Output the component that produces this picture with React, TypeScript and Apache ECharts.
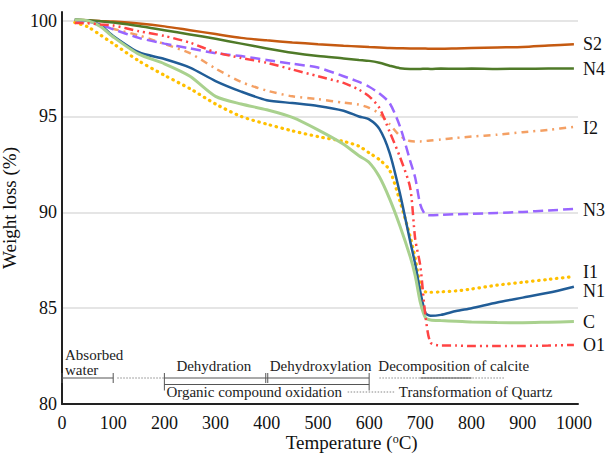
import React, { useEffect, useRef } from 'react';
import * as echarts from 'echarts';

// Temperature grid (°C)
const temperatures = [25, 50, 75, 100, 150, 200, 250, 300, 350, 400, 450, 500, 550, 580, 600, 620, 640, 660, 680, 690, 700, 710, 720, 740, 770, 800, 850, 900, 950, 1000];

// Weight loss (%) per sample
const s2 = [100.05, 100.02, 99.98, 99.95, 99.85, 99.7, 99.5, 99.3, 99.1, 98.97, 98.86, 98.77, 98.69, 98.65, 98.62, 98.6, 98.57, 98.56, 98.55, 98.55, 98.54, 98.54, 98.53, 98.53, 98.55, 98.57, 98.6, 98.62, 98.7, 98.77];
const n4 = [100.05, 100.02, 99.97, 99.9, 99.72, 99.5, 99.28, 99.05, 98.8, 98.55, 98.32, 98.15, 98.03, 97.95, 97.9, 97.8, 97.65, 97.52, 97.48, 97.48, 97.48, 97.49, 97.48, 97.5, 97.49, 97.5, 97.48, 97.49, 97.5, 97.5];
const i2 = [99.98, 99.92, 99.8, 99.58, 99.23, 98.78, 98.3, 97.5, 96.8, 96.35, 96.05, 95.9, 95.72, 95.62, 95.45, 95.15, 94.6, 94.0, 93.72, 93.7, 93.7, 93.72, 93.75, 93.8, 93.88, 93.95, 94.05, 94.18, 94.3, 94.46];
const n3 = [100.0, 99.95, 99.8, 99.55, 99.1, 98.8, 98.55, 98.3, 98.15, 97.95, 97.75, 97.55, 97.1, 96.8, 96.55, 96.2, 95.7, 94.5, 92.7, 91.8, 90.4, 89.88, 89.85, 89.87, 89.9, 89.92, 89.97, 90.02, 90.1, 90.17];
const i1 = [99.9, 99.68, 99.25, 98.8, 97.9, 97.15, 96.45, 95.65, 95.0, 94.6, 94.25, 93.95, 93.7, 93.45, 93.1, 92.75, 92.2, 90.6, 88.75, 87.6, 86.2, 85.85, 85.83, 85.85, 85.9, 86.0, 86.2, 86.35, 86.5, 86.65];
const n1 = [100.05, 100.0, 99.75, 99.2, 98.35, 98.0, 97.55, 96.85, 96.3, 95.85, 95.7, 95.55, 95.3, 95.0, 94.85, 94.35, 93.1, 91.0, 88.5, 87.3, 85.85, 84.75, 84.6, 84.65, 84.85, 85.0, 85.3, 85.55, 85.8, 86.12];
const c = [100.05, 100.0, 99.7, 99.15, 98.25, 97.75, 97.1, 96.05, 95.65, 95.35, 94.95, 94.3, 93.55, 92.95, 92.6, 91.85, 90.7, 89.3, 87.7, 86.7, 85.3, 84.5, 84.38, 84.35, 84.32, 84.28, 84.25, 84.24, 84.27, 84.3];
const o1 = [99.88, 99.86, 99.8, 99.75, 99.45, 99.2, 98.85, 98.35, 98.05, 97.8, 97.45, 97.1, 96.75, 96.4, 96.05, 95.45, 94.2, 92.9, 91.3, 88.6, 87.2, 84.6, 83.2, 83.05, 83.05, 83.02, 83.02, 83.03, 83.05, 83.08];

const seriesNames = ['S2', 'N4', 'I2', 'N3', 'I1', 'N1', 'C', 'O1'];
const seriesValues = [s2, n4, i2, n3, i1, n1, c, o1];
const seriesColors = ['#C55A11', '#4F7A28', '#F4A064', '#9966FF', '#FFC000', '#215D97', '#A9D18E', '#FF4444'];
const seriesDash: any[] = ['solid', 'solid', [7, 5, 2, 5], [10, 5], [0.5, 5.5], 'solid', 'solid', [9, 4, 2, 4, 2, 4]];
const seriesCap = ['butt', 'butt', 'butt', 'butt', 'round', 'butt', 'butt', 'butt'];
const seriesWidth = [2.5, 2.5, 2.5, 2.5, 3.2, 2.5, 3, 2.5];
const labelOffsetY = [0, 0, 1, 1, -5, 4, 0, 0];

const FONT = 'Liberation Serif';

export default function App() {
  const ref = useRef<HTMLDivElement>(null);

  useEffect(() => {
    if (!ref.current) return;
    const chart = echarts.init(ref.current, undefined, { renderer: 'svg' });

    const series = seriesNames.map((name, k) => ({
      name,
      type: 'line',
      data: temperatures.map((t, i) => [t, seriesValues[k][i]]),
      showSymbol: false,
      symbol: 'none',
      smooth: 0.25,
      lineStyle: { color: seriesColors[k], width: seriesWidth[k], type: seriesDash[k], cap: seriesCap[k] },
      itemStyle: { color: seriesColors[k] },
      endLabel: {
        show: true,
        formatter: '{a}',
        color: '#111',
        fontSize: 18,
        fontFamily: FONT,
        distance: 9,
        offset: [0, labelOffsetY[k]],
      },
      z: 3,
    }));

    chart.setOption({
      animation: false,
      backgroundColor: '#fff',
      textStyle: { fontFamily: FONT },
      grid: { left: 62, right: 28, top: 12, bottom: 50, containLabel: false, outerBoundsMode: 'none' },
      xAxis: {
        type: 'value',
        min: 0,
        max: 1008,
        interval: 100,
        axisLine: { show: true, lineStyle: { color: '#222', width: 2 } },
        axisTick: { show: false },
        splitLine: { show: false },
        axisLabel: {
          color: '#111',
          fontSize: 18,
          fontFamily: FONT,
          margin: 10,
          showMaxLabel: false,
          formatter: (v: number) => (v % 100 === 0 ? String(v) : ''),
        },
      },
      yAxis: {
        type: 'value',
        min: 80,
        max: 100.45,
        interval: 5,
        name: 'Weight loss (%)',
        nameLocation: 'middle',
        nameGap: 30,
        nameTextStyle: { color: '#111', fontSize: 19, fontFamily: FONT },
        axisLine: { show: true, lineStyle: { color: '#222', width: 2 } },
        axisTick: { show: false },
        splitLine: { show: true, showMaxLine: false, showMinLine: false, lineStyle: { color: '#dcdcdc', width: 1.5 } },
        axisLabel: {
          color: '#111',
          fontSize: 18,
          fontFamily: FONT,
          margin: 5,
          showMaxLabel: false,
          formatter: (v: number) => (v % 5 === 0 ? String(v) : ''),
        },
      },
      series,
    });

    // Annotation layer, positioned from the axes
    const px = (t: number) => chart.convertToPixel({ xAxisIndex: 0 }, t) as number;
    const base = chart.convertToPixel({ yAxisIndex: 0 }, 80) as number;
    const row1 = base - 26;
    const row2 = base - 19.5;
    const textRow1 = base - 38;
    const textRow2 = base - 12;
    const solid = { stroke: '#555', lineWidth: 1 };
    const dotted = { stroke: '#888', lineWidth: 1, lineDash: [1.5, 1.5] };
    const ln = (x1: number, y1: number, x2: number, y2: number, style: any) => ({
      type: 'line', shape: { x1, y1, x2, y2 }, style, z: 5, silent: true,
    });
    const tx = (text: string, x: number, y: number) => ({
      type: 'text', x, y, z: 5, silent: true,
      style: { text, fontSize: 15, fontFamily: FONT, fill: '#222', align: 'left', verticalAlign: 'middle' },
    });

    const graphic: any[] = [
      // Absorbed water 0-100
      ln(px(0), row1, px(100), row1, solid),
      ln(px(0), row1 - 5, px(0), row1 + 5, solid),
      ln(px(100), row1 - 5, px(100), row1 + 5, solid),
      tx('Absorbed', px(0) + 3, base - 49),
      tx('water', px(0) + 3, base - 34),
      ln(px(108), row1, px(200), row1, dotted),
      // Dehydration 200-400
      ln(px(200), row1, px(400), row1, solid),
      ln(px(200), row1 - 5, px(200), row2 + 6, solid),
      ln(px(400) - 1, row1 - 5, px(400) - 1, row1 + 5, solid),
      ln(px(400) + 1, row1 - 5, px(400) + 1, row1 + 5, solid),
      tx('Dehydration', px(200) + 12, textRow1),
      // Dehydroxylation 400-600
      ln(px(400), row1, px(600), row1, solid),
      ln(px(600), row1 - 5, px(600), row2 + 6, solid),
      tx('Dehydroxylation', px(400) + 3, textRow1),
      // Decomposition of calcite
      ln(px(620), row1, px(865), row1, dotted),
      ln(px(700), row1, px(800), row1, solid),
      tx('Decomposition of calcite', px(618), textRow1),
      // Organic compound oxidation 200-600
      ln(px(200), row2, px(600), row2, solid),
      tx('Organic compound oxidation', px(200) + 2, textRow2),
      ln(px(558), textRow2, px(650), textRow2, dotted),
      tx('Transformation of Quartz', px(658), textRow2),
      // X axis title
      {
        type: 'text', x: px(566), y: base + 38, z: 5, silent: true,
        style: {
          text: '{a|Temperature (}{s|o}{a|C)}',
          align: 'center',
          verticalAlign: 'middle',
          rich: {
            a: { fontSize: 19, fontFamily: FONT, fill: '#111', color: '#111' } as any,
            s: { fontSize: 12, fontFamily: FONT, fill: '#111', color: '#111', verticalAlign: 'top' } as any,
          },
        },
      },
    ];
    chart.setOption({ graphic });

    return () => chart.dispose();
  }, []);

  return <div ref={ref} style={{ position: 'fixed', left: 0, top: 0, width: 606, height: 454 }} />;
}
